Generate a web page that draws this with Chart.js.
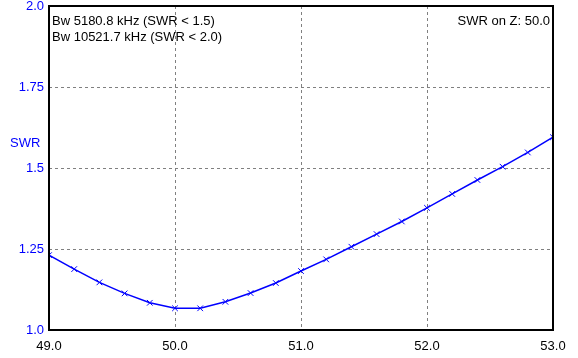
<!DOCTYPE html>
<html>
<head>
<meta charset="utf-8">
<script src="https://cdn.jsdelivr.net/npm/chart.js@4"></script>
<style>
html,body{margin:0;padding:0;background:#fff;}
canvas{display:block;}
</style>
</head>
<body>
<canvas id="c" width="578" height="358"></canvas>
<script>
const freqMHz = [49.0,49.2,49.4,49.6,49.8,50.0,50.2,50.4,50.6,50.8,51.0,51.2,51.4,51.6,51.8,52.0,52.2,52.4,52.6,52.8,53.0];
const swrValues = [1.231,1.188,1.147,1.113,1.084,1.067,1.067,1.087,1.114,1.145,1.182,1.218,1.257,1.296,1.335,1.377,1.420,1.463,1.504,1.548,1.595];
const xTickLabels = ['49.0','50.0','51.0','52.0','53.0'];
const yTickLabels = ['1.0','1.25','1.5','1.75','2.0'];
const infoLeft = ['Bw 5180.8 kHz (SWR < 1.5)','Bw 10521.7 kHz (SWR < 2.0)'];
const infoRight = 'SWR on Z: 50.0';
const yTitle = 'SWR';

const FAMILY = '"Liberation Sans", Arial, sans-serif';
const FONT = '13px ' + FAMILY;

const overlay = {
  id: 'overlay',
  afterDraw(chart) {
    const ctx = chart.ctx;
    const a = chart.chartArea;
    ctx.save();
    ctx.strokeStyle = '#000';
    ctx.lineWidth = 2;
    ctx.strokeRect(a.left, a.top, a.right - a.left, a.bottom - a.top);
    ctx.font = FONT;
    ctx.fillStyle = '#000';
    ctx.textBaseline = 'middle';
    ctx.textAlign = 'left';
    infoLeft.forEach((t, i) => ctx.fillText(t, a.left + 3, a.top + 15 + i * 16));
    ctx.textAlign = 'right';
    ctx.fillText(infoRight, a.right - 3, a.top + 15);
    ctx.fillStyle = '#0000FF';
    ctx.textAlign = 'left';
    ctx.fillText(yTitle, 10, 143);
    ctx.restore();
  }
};

new Chart(document.getElementById('c'), {
  type: 'line',
  data: {
    datasets: [{
      data: freqMHz.map((f, i) => ({x: f, y: swrValues[i]})),
      borderColor: '#0000FF',
      backgroundColor: '#0000FF',
      borderWidth: 1.5,
      tension: 0,
      pointStyle: 'crossRot',
      pointRadius: 4,
      pointBorderWidth: 1,
      pointBorderColor: '#0000FF',
      fill: false
    }]
  },
  options: {
    responsive: false,
    devicePixelRatio: 1,
    animation: false,
    layout: {padding: {left: 0, right: 25, top: 0, bottom: 0}},
    plugins: {legend: {display: false}, tooltip: {enabled: false}},
    scales: {
      x: {
        type: 'linear',
        min: 49, max: 53,
        afterFit(s) { s.height = 28; },
        border: {display: false, dash: [3, 3]},
        grid: {color: '#808080', lineWidth: 1, drawTicks: false},
        ticks: {
          stepSize: 1,
          padding: 9,
          color: '#000',
          font: {family: FAMILY, size: 13},
          maxRotation: 0,
          callback: (v, i) => xTickLabels[i]
        }
      },
      y: {
        type: 'linear',
        min: 1, max: 2,
        afterFit(s) { s.width = 49; s.paddingTop = 6; s.paddingBottom = 0; },
        border: {display: false, dash: [3, 3]},
        grid: {color: '#808080', lineWidth: 1, drawTicks: false},
        ticks: {
          stepSize: 0.25,
          padding: 5,
          color: '#0000FF',
          font: {family: FAMILY, size: 13},
          callback: (v, i) => yTickLabels[i]
        }
      }
    }
  },
  plugins: [overlay]
});
</script>
</body>
</html>
